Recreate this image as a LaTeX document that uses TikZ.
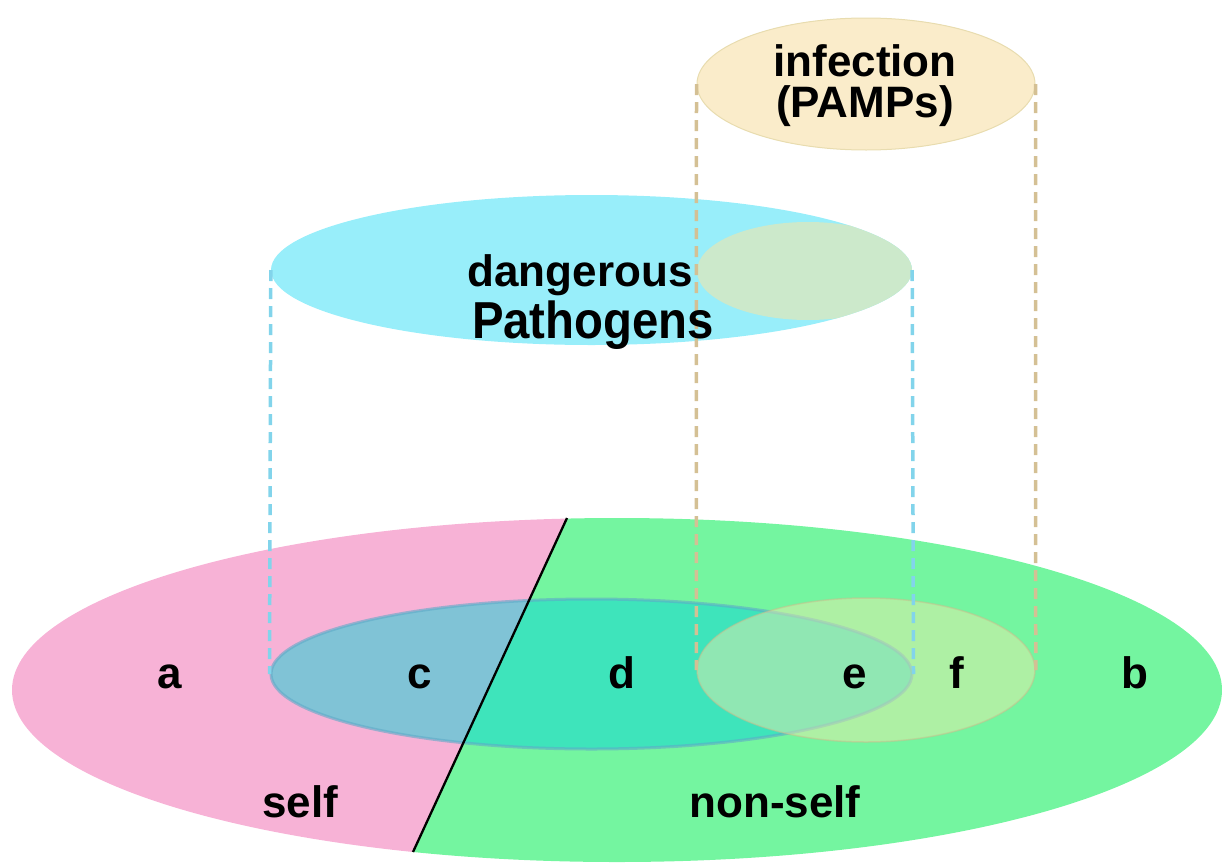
\documentclass[tikz,border=0pt]{standalone}
\usepackage{fontspec}
\setmainfont{Liberation Sans}
\usetikzlibrary{shapes.geometric}
\definecolor{pinkself}{RGB}{247,178,214}
\definecolor{greenns}{RGB}{116,245,160}
\definecolor{cyanup}{RGB}{152,238,250}
\definecolor{beigeup}{RGB}{250,236,202}
\definecolor{beigeln}{RGB}{232,220,175}
\definecolor{sage}{RGB}{204,233,203}
\definecolor{bluelow}{RGB}{10,212,215}
\definecolor{bluelowln}{RGB}{95,170,200}
\definecolor{beigelow}{RGB}{245,235,170}
\definecolor{beigelowln}{RGB}{200,190,140}
\definecolor{tandash}{RGB}{212,192,148}
\definecolor{bluedash}{RGB}{130,212,235}
\tikzset{
  lbl/.style={font=\fontsize{44}{48}\selectfont\bfseries, anchor=base, inner sep=0pt},
  ell/.style={ellipse, inner sep=0pt},
  tanline/.style={draw=tandash, line width=3.5pt, dash pattern=on 11pt off 7pt},
  blueline/.style={draw=bluedash, line width=3.5pt, dash pattern=on 11pt off 7pt},
}
\begin{document}
\begin{tikzpicture}[x=1pt,y=-1pt]
\useasboundingbox (0,0) rectangle (1222,862);
% big self / non-self ellipse
\node[ell, minimum width=1210pt, minimum height=344pt] (big) at (617,690) {};
\begin{scope}
  \clip (0,400) -- (621.4,400) -- (391,900) -- (0,900) -- cycle;
  \fill[pinkself] (617,690) ellipse [x radius=605, y radius=172];
\end{scope}
\begin{scope}
  \clip (621.4,400) -- (1300,400) -- (1300,900) -- (391,900) -- cycle;
  \fill[greenns] (617,690) ellipse [x radius=605, y radius=172];
\end{scope}
% lower dangerous ellipse
\node[ell, minimum width=641pt, minimum height=150pt, fill=bluelow, fill opacity=0.5,
      draw=bluelowln, draw opacity=0.6, line width=3pt] (dlow) at (591.5,674) {};
% lower infection ellipse
\node[ell, minimum width=338pt, minimum height=144pt, fill=beigelow, fill opacity=0.45,
      draw=beigelowln, draw opacity=0.5, line width=1.5pt] (ilow) at (866,670) {};
% divider
\coordinate (dtop) at (567,518);
\coordinate (dbot) at (413,852);
\draw[line width=2.3pt, black] (dtop) -- (dbot);
% upper dangerous ellipse
\node[ell, minimum width=641pt, minimum height=150pt, fill=cyanup] (dup) at (591.5,270) {};
\begin{scope}
  \clip (591.5,270) ellipse [x radius=320.5, y radius=75];
  \fill[sage] (808,271) ellipse [x radius=111, y radius=49];
\end{scope}
% upper infection ellipse
\node[ell, minimum width=338pt, minimum height=132pt, fill=beigeup, draw=beigeln, line width=1pt] (iup) at (866,84) {};
% dashed projection lines
\draw[blueline] (dup.west) -- (dlow.west);
\draw[blueline] (dup.east) -- (dlow.east);
\draw[tanline] (iup.west) -- (ilow.west);
\draw[tanline] (iup.east) -- (ilow.east);
% labels
\node[lbl] (la) at (170,688) {a};
\node[lbl] (lc) at (420,688) {c};
\node[lbl] (ld) at (622,688) {d};
\node[lbl] (le) at (855,688) {e};
\node[lbl] (lf) at (957,688) {f};
\node[lbl] (lb) at (1135,688) {b};
\node[lbl] (lself) at (300,817) {self};
\node[lbl] (lnon) at (775,817) {non-self};
\node[lbl] (linf) at (865,76) {infection};
\node[lbl] (lpamp) at (865,117) {(PAMPs)};
\node[lbl] (ldang) at (580,286) {dangerous};
\node[lbl, font=\fontsize{52}{56}\selectfont\bfseries, xscale=0.91] (lpath) at (593,338) {Pathogens};
\end{tikzpicture}
\end{document}
